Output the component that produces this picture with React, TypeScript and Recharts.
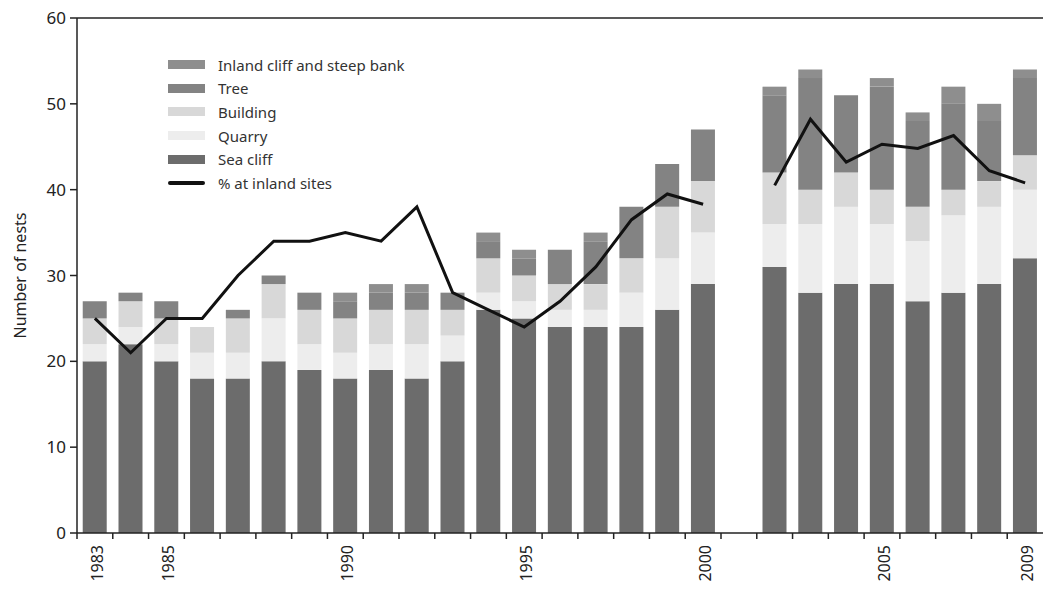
import React from 'react'
import {
  Bar,
  ComposedChart,
  Legend,
  Line,
  ReferenceLine,
  XAxis,
  YAxis,
} from 'recharts'

const years = [
  '1983', '1984', '1985', '1986', '1987', '1988', '1989', '1990', '1991',
  '1992', '1993', '1994', '1995', '1996', '1997', '1998', '1999', '2000',
  '2001', '2002', '2003', '2004', '2005', '2006', '2007', '2008', '2009',
]
const seaCliff = [20, 22, 20, 18, 18, 20, 19, 18, 19, 18, 20, 26, 25, 24, 24, 24, 26, 29, null, 31, 28, 29, 29, 27, 28, 29, 32]
const quarry = [2, 2, 2, 3, 3, 5, 3, 3, 3, 4, 3, 2, 2, 2, 2, 4, 6, 6, null, 5, 8, 9, 7, 7, 9, 9, 8]
const building = [3, 3, 3, 3, 4, 4, 4, 4, 4, 4, 3, 4, 3, 3, 3, 4, 6, 6, null, 6, 4, 4, 4, 4, 3, 3, 4]
const tree = [2, 1, 2, 0, 1, 1, 2, 2, 2, 2, 2, 2, 2, 4, 5, 6, 5, 6, null, 9, 13, 9, 12, 10, 10, 7, 9]
const inlandCliff = [0, 0, 0, 0, 0, 0, 0, 1, 1, 1, 0, 1, 1, 0, 1, 0, 0, 0, null, 1, 1, 0, 1, 1, 2, 2, 1]
const pctInland = [25, 21, 25, 25, 30, 34, 34, 35, 34, 38, 28, 26, 24, 27, 31, 36.5, 39.5, 38.3, null, 40.5, 48.2, 43.2, 45.3, 44.8, 46.3, 42.2, 40.8]

const labelledYears = ['1983', '1985', '1990', '1995', '2000', '2005', '2009']
const yTicks = [0, 10, 20, 30, 40, 50, 60]

const data = years.map((year, i) => ({
  year,
  seaCliff: seaCliff[i],
  quarry: quarry[i],
  building: building[i],
  tree: tree[i],
  inlandCliff: inlandCliff[i],
  pct: pctInland[i],
}))

const W = 1043
const H = 590
const Y_W = 77
const BAND = (W - Y_W) / years.length
const FONT = '"Noto Sans", "Open Sans", sans-serif'

const legendItems = [
  { name: 'Inland cliff and steep bank', color: '#8e8e8e', line: false },
  { name: 'Tree', color: '#838383', line: false },
  { name: 'Building', color: '#d8d8d8', line: false },
  { name: 'Quarry', color: '#ededed', line: false },
  { name: 'Sea cliff', color: '#6c6c6c', line: false },
  { name: '% at inland sites', color: '#111', line: true },
]

const LegendBox = () => (
  <div style={{ fontFamily: FONT, fontSize: 15, color: '#333', textAlign: 'left' }}>
    {legendItems.map((it) => (
      <div key={it.name} style={{ display: 'flex', alignItems: 'center', height: 23.6 }}>
        <div
          style={{
            width: 37,
            height: it.line ? 4 : 9,
            borderRadius: it.line ? 2 : 0,
            background: it.color,
            marginRight: 13,
          }}
        />
        <span>{it.name}</span>
      </div>
    ))}
  </div>
)

const YearTick = (props: any) => {
  const { x, y, payload } = props
  const show = labelledYears.includes(payload.value)
  return (
    <g>
      <line x1={x - BAND / 2} x2={x - BAND / 2} y1={y - 6} y2={y} stroke="#222" strokeWidth={1.5} />
      {show && (
        <text
          x={x + 2}
          y={y + 6}
          transform={`rotate(-90, ${x + 2}, ${y + 6})`}
          textAnchor="end"
          dominantBaseline="central"
          fontSize={16}
          fontFamily={FONT}
          fill="#222"
        >
          {payload.value}
        </text>
      )}
    </g>
  )
}

export default function App() {
  return (
    <div style={{ position: 'absolute', left: 0, top: 0, width: W, height: H, background: '#fff' }}>
      <ComposedChart
        width={W}
        height={H}
        data={data}
        margin={{ top: 18, right: 0, bottom: 0, left: 0 }}
        barCategoryGap="16%"
      >
        <XAxis
          dataKey="year"
          interval={0}
          tickLine={false}
          tickSize={6}
          tickMargin={0}
          height={57}
          axisLine={{ stroke: '#222', strokeWidth: 1.5 }}
          tick={<YearTick />}
        />
        <YAxis
          width={Y_W}
          domain={[0, 60]}
          ticks={yTicks}
          tickSize={7}
          tickMargin={4}
          axisLine={{ stroke: '#222', strokeWidth: 1.5 }}
          tickLine={{ stroke: '#222', strokeWidth: 1.5 }}
          tick={{ fontSize: 17, fill: '#222', fontFamily: FONT }}
          label={{
            content: (p: any) => {
              const vb = p.viewBox
              const cy = vb.y + vb.height / 2
              return (
                <text
                  x={20}
                  y={cy}
                  transform={`rotate(-90, 20, ${cy})`}
                  textAnchor="middle"
                  dominantBaseline="central"
                  fontSize={16}
                  fontFamily={FONT}
                  fill="#222"
                >
                  Number of nests
                </text>
              )
            },
          }}
        />
        <ReferenceLine y={60} stroke="#222" strokeWidth={1.5} />
        <Legend
          content={<LegendBox />}
          layout="vertical"
          verticalAlign="middle"
          align="center"
          wrapperStyle={{ left: 168, top: 53, width: 320 }}
        />
        <Bar dataKey="seaCliff" stackId="a" fill="#6c6c6c" isAnimationActive={false} />
        <Bar dataKey="quarry" stackId="a" fill="#ededed" isAnimationActive={false} />
        <Bar dataKey="building" stackId="a" fill="#d8d8d8" isAnimationActive={false} />
        <Bar dataKey="tree" stackId="a" fill="#838383" isAnimationActive={false} />
        <Bar dataKey="inlandCliff" stackId="a" fill="#8e8e8e" isAnimationActive={false} />
        <Line
          dataKey="pct"
          stroke="#111"
          strokeWidth={3}
          dot={false}
          activeDot={false}
          connectNulls={false}
          isAnimationActive={false}
        />
      </ComposedChart>
    </div>
  )
}
